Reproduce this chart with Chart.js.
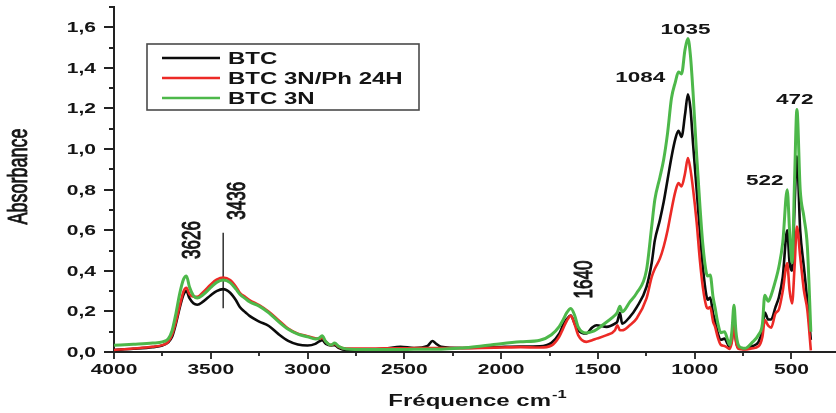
<!DOCTYPE html>
<html>
<head>
<meta charset="utf-8">
<script src="https://cdn.jsdelivr.net/npm/chart.js@4.4.1/dist/chart.umd.min.js"></script>
<style>
  html, body { margin: 0; padding: 0; background: #fff; overflow: hidden; }
  #wrap { width: 836px; height: 413px; }
</style>
</head>
<body>
<div id="wrap"><canvas id="c" width="836" height="413"></canvas></div>
<script>
// FTIR absorbance spectra, wavenumber in cm-1 (descending)
const wavenumbers = [
  4000, 3900, 3800, 3750, 3720, 3700, 3680, 3660, 3640, 3626, 3610, 3590, 3570, 3540, 3500, 3470, 3436, 3400,
  3370, 3350, 3320, 3300, 3250, 3200, 3150, 3100, 3050, 3000, 2960, 2940, 2925, 2905, 2880, 2860, 2840, 2800,
  2700, 2600, 2520, 2450, 2380, 2355, 2335, 2310, 2200, 2100, 2000, 1900, 1800, 1740, 1700, 1680, 1660, 1640,
  1620, 1602, 1560, 1530, 1507, 1455, 1412, 1400, 1386, 1375, 1335, 1300, 1249, 1222, 1206, 1180, 1160, 1140,
  1120, 1100, 1084, 1068, 1050, 1035, 1022, 1008, 990, 973, 958, 940, 932, 920, 905, 895, 880, 865, 846, 830,
  820, 808, 797, 787, 775, 760, 740, 705, 670, 650, 638, 620, 605, 583, 565, 545, 522, 510, 497, 484, 472, 455,
  436, 418, 400
];

const btc = [
  0.010, 0.016, 0.024, 0.032, 0.048, 0.075, 0.140, 0.220, 0.285, 0.300, 0.265, 0.240, 0.233, 0.248, 0.280, 0.300, 0.310, 0.292,
  0.255, 0.222, 0.195, 0.178, 0.150, 0.128, 0.088, 0.055, 0.037, 0.032, 0.040, 0.052, 0.058, 0.040, 0.032, 0.034, 0.020, 0.010,
  0.011, 0.016, 0.026, 0.020, 0.030, 0.054, 0.040, 0.026, 0.020, 0.022, 0.025, 0.027, 0.028, 0.045, 0.090, 0.132, 0.163, 0.180,
  0.140, 0.107, 0.091, 0.120, 0.132, 0.124, 0.140, 0.150, 0.193, 0.140, 0.173, 0.220, 0.321, 0.440, 0.550, 0.650, 0.740, 0.850,
  0.960, 1.050, 1.090, 1.060, 1.170, 1.270, 1.200, 1.020, 0.800, 0.590, 0.420, 0.280, 0.258, 0.268, 0.190, 0.155, 0.090, 0.060, 0.066, 0.040,
  0.025, 0.060, 0.157, 0.060, 0.020, 0.016, 0.015, 0.028, 0.050, 0.110, 0.195, 0.160, 0.160, 0.220, 0.270, 0.370, 0.600, 0.440, 0.400, 0.720, 0.964, 0.600,
  0.420, 0.250, 0.060
];

const btc3nPh = [
  0.010, 0.017, 0.026, 0.034, 0.050, 0.085, 0.150, 0.230, 0.300, 0.316, 0.285, 0.272, 0.272, 0.295, 0.333, 0.356, 0.367, 0.355,
  0.322, 0.292, 0.270, 0.256, 0.231, 0.198, 0.157, 0.115, 0.090, 0.078, 0.067, 0.066, 0.070, 0.050, 0.034, 0.040, 0.026, 0.017,
  0.017, 0.018, 0.018, 0.019, 0.020, 0.020, 0.020, 0.020, 0.019, 0.020, 0.022, 0.024, 0.022, 0.032, 0.075, 0.115, 0.155, 0.178,
  0.135, 0.083, 0.050, 0.058, 0.066, 0.083, 0.107, 0.132, 0.107, 0.107, 0.132, 0.165, 0.264, 0.370, 0.410, 0.460, 0.520, 0.600,
  0.700, 0.790, 0.832, 0.816, 0.880, 0.956, 0.900, 0.800, 0.640, 0.450, 0.320, 0.225, 0.214, 0.222, 0.150, 0.125, 0.070, 0.035, 0.030, 0.020,
  0.015, 0.050, 0.140, 0.050, 0.017, 0.014, 0.012, 0.018, 0.028, 0.075, 0.157, 0.130, 0.120, 0.190, 0.210, 0.300, 0.437, 0.305, 0.239, 0.420, 0.618, 0.470,
  0.305, 0.206, 0.008
];

const btc3n = [
  0.033, 0.038, 0.044, 0.050, 0.065, 0.105, 0.190, 0.290, 0.360, 0.375, 0.320, 0.278, 0.266, 0.282, 0.318, 0.343, 0.355, 0.342,
  0.310, 0.285, 0.262, 0.248, 0.226, 0.193, 0.150, 0.112, 0.088, 0.075, 0.064, 0.068, 0.080, 0.050, 0.034, 0.044, 0.028, 0.015,
  0.012, 0.012, 0.012, 0.013, 0.013, 0.014, 0.014, 0.014, 0.020, 0.030, 0.041, 0.050, 0.058, 0.085, 0.125, 0.158, 0.195, 0.214,
  0.180, 0.124, 0.094, 0.100, 0.111, 0.148, 0.181, 0.195, 0.226, 0.198, 0.247, 0.290, 0.404, 0.620, 0.750, 0.860, 0.950, 1.080,
  1.250, 1.330, 1.380, 1.370, 1.490, 1.545, 1.460, 1.270, 0.970, 0.720, 0.530, 0.390, 0.375, 0.380, 0.270, 0.220, 0.140, 0.095, 0.100, 0.060,
  0.035, 0.100, 0.230, 0.100, 0.035, 0.022, 0.018, 0.045, 0.085, 0.140, 0.280, 0.250, 0.280, 0.350, 0.420, 0.540, 0.800, 0.600, 0.440, 0.850, 1.195, 0.800,
  0.667, 0.520, 0.100
];

const seriesNames = ['BTC', 'BTC 3N/Ph 24H', 'BTC 3N'];
const seriesColors = ['#0b0b0b', '#ec2a26', '#4db84a'];

const xMajorTicks = [4000, 3500, 3000, 2500, 2000, 1500, 1000, 500];
const xMinorTicks = [3750, 3250, 2750, 2250, 1750, 1250, 750];
const yMajorTicks = [0, 0.2, 0.4, 0.6, 0.8, 1.0, 1.2, 1.4, 1.6];
const yMinorTicks = [0.1, 0.3, 0.5, 0.7, 0.9, 1.1, 1.3, 1.5, 1.7];

// Band assignments: label text, wavenumber / absorbance of the label centre, rotated or not
const bandLabels = ['3626', '3436', '1640', '1084', '1035', '522', '472'];
const bandLabelX = [3592, 3360, 1567, 1281, 1048, 638, 483];
const bandLabelY = [0.552, 0.745, 0.357, 1.353, 1.588, 0.841, 1.242];
const bandLabelRotated = [true, true, true, false, false, false, false];

// Marker line on the O-H band
const markerWavenumber = 3436;
const markerRange = [0.216, 0.587];

const TEXT = '#141414';
const SX = 1.5; // horizontal stretch of the lettering
const FONT = '"Liberation Sans", Arial, sans-serif';

function toPoints(ys) {
  return wavenumbers.map((w, i) => ({ x: w, y: ys[i] }));
}

function drawText(ctx, str, x, y, font, align, baseline, rotated, heavy) {
  ctx.save();
  ctx.translate(x, y);
  ctx.scale(SX, 1);
  if (rotated) ctx.rotate(-Math.PI / 2);
  ctx.font = font;
  ctx.textAlign = align;
  ctx.textBaseline = baseline;
  ctx.fillStyle = TEXT;
  ctx.fillText(str, 0, 0);
  if (heavy) {
    ctx.strokeStyle = TEXT;
    ctx.lineWidth = heavy;
    ctx.strokeText(str, 0, 0);
  }
  ctx.restore();
}

const decorations = {
  id: 'decorations',
  afterDraw(chart) {
    const ctx = chart.ctx;
    const xs = chart.scales.x, ys = chart.scales.y;
    const area = chart.chartArea;

    // tick marks
    ctx.save();
    ctx.strokeStyle = '#222';
    ctx.lineWidth = 1.8;
    ctx.beginPath();
    xMajorTicks.forEach(v => { const p = Math.round(xs.getPixelForValue(v)); ctx.moveTo(p, area.bottom); ctx.lineTo(p, area.bottom + 7); });
    xMinorTicks.forEach(v => { const p = Math.round(xs.getPixelForValue(v)); ctx.moveTo(p, area.bottom); ctx.lineTo(p, area.bottom + 4); });
    yMajorTicks.forEach(v => { const p = Math.round(ys.getPixelForValue(v)); ctx.moveTo(area.left - 10, p); ctx.lineTo(area.left, p); });
    yMinorTicks.forEach(v => { const p = Math.round(ys.getPixelForValue(v)); ctx.moveTo(area.left - 5, p); ctx.lineTo(area.left, p); });
    ctx.stroke();
    ctx.restore();

    // tick labels
    const tickFont = 'bold 14px ' + FONT;
    xMajorTicks.forEach(v => drawText(ctx, String(v), xs.getPixelForValue(v), area.bottom + 22, tickFont, 'center', 'alphabetic', false));
    yMajorTicks.forEach(v => drawText(ctx, v.toFixed(1).replace('.', ','), area.left - 18, ys.getPixelForValue(v) + 5, tickFont, 'right', 'alphabetic', false));

    // axis titles
    drawText(ctx, 'Absorbance', area.left - 94, (area.top + area.bottom) / 2 - 3, '18px ' + FONT, 'center', 'middle', true, 0.6);
    ctx.save();
    ctx.font = 'bold 16px ' + FONT;
    const mainW = ctx.measureText('Fréquence cm').width * SX;
    ctx.font = 'bold 11px ' + FONT;
    const supW = ctx.measureText('-1').width * SX;
    ctx.restore();
    const tx = (area.left + area.right) / 2 - (mainW + supW) / 2 + 2;
    drawText(ctx, 'Fréquence cm', tx, 406, 'bold 16px ' + FONT, 'left', 'alphabetic', false);
    drawText(ctx, '-1', tx + mainW + 1, 398, 'bold 11px ' + FONT, 'left', 'alphabetic', false);

    // band labels
    bandLabels.forEach((t, i) => {
      const px = xs.getPixelForValue(bandLabelX[i]);
      const py = ys.getPixelForValue(bandLabelY[i]);
      if (bandLabelRotated[i]) drawText(ctx, t, px, py, '17px ' + FONT, 'center', 'middle', true, 0.7);
      else drawText(ctx, t, px, py, 'bold 15px ' + FONT, 'center', 'middle', false);
    });

    // legend
    const lx = 147, ly = 44, lw = 272, lh = 66;
    ctx.save();
    ctx.fillStyle = '#fff';
    ctx.fillRect(lx, ly, lw, lh);
    ctx.strokeStyle = '#4a4a4a';
    ctx.lineWidth = 1.6;
    ctx.strokeRect(lx, ly, lw, lh);
    ctx.restore();
    seriesNames.forEach((name, i) => {
      const y = ly + 14 + i * 20;
      ctx.save();
      ctx.strokeStyle = seriesColors[i];
      ctx.lineWidth = 2.6;
      ctx.beginPath();
      ctx.moveTo(lx + 15, y);
      ctx.lineTo(lx + 73, y);
      ctx.stroke();
      ctx.restore();
      drawText(ctx, name, lx + 81, y + 6, 'bold 16px ' + FONT, 'left', 'alphabetic', false);
    });
  }
};

const seriesData = [btc, btc3nPh, btc3n];
const datasets = seriesData.map((ys, i) => ({
  label: seriesNames[i],
  data: toPoints(ys),
  borderColor: seriesColors[i],
  borderWidth: i === 2 ? 3 : 2.6,
  showLine: true,
  pointRadius: 0,
  cubicInterpolationMode: 'monotone',
  order: 2 - i
}));
datasets.push({
  label: 'marker',
  data: [{ x: markerWavenumber, y: markerRange[0] }, { x: markerWavenumber, y: markerRange[1] }],
  borderColor: '#111',
  borderWidth: 1.3,
  showLine: true,
  pointRadius: 0,
  order: 3
});

new Chart(document.getElementById('c'), {
  type: 'scatter',
  data: { datasets },
  options: {
    responsive: false,
    animation: false,
    layout: { padding: { top: 7, right: 0, bottom: 0, left: 0 } },
    plugins: { legend: { display: false }, tooltip: { enabled: false } },
    scales: {
      x: {
        type: 'linear', reverse: true, min: 270, max: 4000,
        ticks: { display: false, stepSize: 500, includeBounds: false },
        grid: { display: false },
        border: { display: true, color: '#222', width: 2 },
        afterFit(s) { s.height = 61; }
      },
      y: {
        type: 'linear', min: 0, max: 1.7,
        ticks: { display: false, stepSize: 0.2, includeBounds: false },
        grid: { display: false },
        border: { display: true, color: '#222', width: 2 },
        afterFit(s) { s.width = 114; }
      }
    }
  },
  plugins: [decorations]
});
</script>
</body>
</html>
